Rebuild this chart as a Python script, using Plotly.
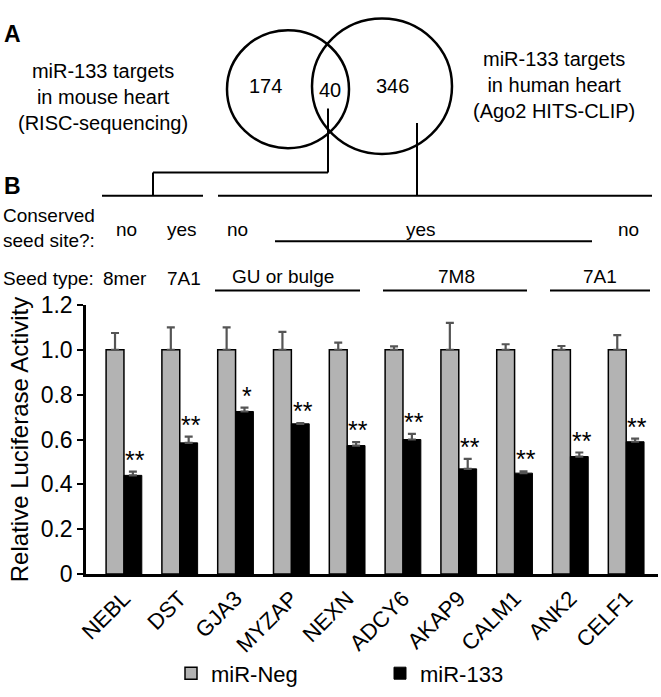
import plotly.graph_objects as go

# ---------------- data ----------------
genes = ["NEBL", "DST", "GJA3", "MYZAP", "NEXN", "ADCY6", "AKAP9", "CALM1", "ANK2", "CELF1"]
neg_vals = [1.0, 1.0, 1.0, 1.0, 1.0, 1.0, 1.0, 1.0, 1.0, 1.0]
neg_err = [0.075, 0.10, 0.10, 0.08, 0.032, 0.015, 0.12, 0.025, 0.017, 0.066]
mir_vals = [0.44, 0.585, 0.725, 0.67, 0.573, 0.60, 0.469, 0.45, 0.524, 0.59]
mir_err = [0.017, 0.028, 0.017, 0.003, 0.015, 0.025, 0.045, 0.008, 0.018, 0.014]
signif = ["**", "**", "*", "**", "**", "**", "**", "**", "**", "**"]
conserved = ["no", "yes", "no", "", "", "", "", "", "", "no"]
seed_type = ["8mer", "7A1"]
venn_counts = [174, 40, 346]
yticks = [0, 0.2, 0.4, 0.6, 0.8, 1.0, 1.2]
ytick_text = ["0", "0.2", "0.4", "0.6", "0.8", "1.0", "1.2"]

# ---------------- layout geometry ----------------
W, H = 661, 697
ML, MR, MT, MB = 86, 3, 305, 114
PW, PH = W - ML - MR, H - MT - MB


def xp(px):
    return (px - ML) / PW


def yp(py):
    return (H - MB - py) / PH


FONT = "Liberation Sans, Arial, sans-serif"
FS = 19
idx = list(range(len(genes)))

fig = go.Figure()
fig.add_trace(go.Bar(
    x=idx, y=neg_vals, name="miR-Neg",
    marker=dict(color="#b3b3b3", line=dict(color="black", width=1.5)),
    error_y=dict(type="data", array=neg_err, arrayminus=[0] * len(genes), symmetric=False,
                 color="#555555", thickness=2.2, width=4),
))
fig.add_trace(go.Bar(
    x=idx, y=mir_vals, name="miR-133",
    marker=dict(color="black", line=dict(color="black", width=1)),
    error_y=dict(type="data", array=mir_err, arrayminus=[0] * len(genes), symmetric=False,
                 color="#555555", thickness=2.2, width=4),
))

ann = []
shapes = []
# significance stars above miR-133 bars
for i, s in enumerate(signif):
    ann.append(dict(x=i + 0.2, y=mir_vals[i] + mir_err[i], xref="x", yref="y", text=s,
                    showarrow=False, yanchor="bottom", yshift=-4,
                    font=dict(size=25, color="black", family=FONT)))

def text(px, py, t, size=FS, xanchor="center", align="center", bold=False):
    ann.append(dict(x=xp(px), y=yp(py), xref="paper", yref="paper", text=("<b>%s</b>" % t) if bold else t,
                    showarrow=False, xanchor=xanchor, yanchor="middle", align=align,
                    font=dict(size=size, color="black", family=FONT)))

def line(x0, y0, x1, y1, w=2):
    shapes.append(dict(type="line", xref="paper", yref="paper", x0=xp(x0), y0=yp(y0), x1=xp(x1), y1=yp(y1),
                       line=dict(color="black", width=w)))

# panel letters
text(2, 25, "A", size=23, xanchor="left", bold=True)
text(2, 182, "B", size=23, xanchor="left", bold=True)

# Venn diagram
shapes.append(dict(type="circle", xref="paper", yref="paper", x0=xp(288 - 61), x1=xp(288 + 61),
                   y0=yp(82 + 61), y1=yp(82 - 61), line=dict(color="black", width=2.5)))
shapes.append(dict(type="circle", xref="paper", yref="paper", x0=xp(382 - 70), x1=xp(382 + 70),
                   y0=yp(79 + 70), y1=yp(79 - 70), line=dict(color="black", width=2.5)))
text(265, 79, str(venn_counts[0]), size=20)
text(330, 83, str(venn_counts[1]), size=20)
text(392, 79, str(venn_counts[2]), size=20)
text(103, 90, "miR-133 targets<br>in mouse heart<br>(RISC-sequencing)", size=20)
text(554, 78, "miR-133 targets<br>in human heart<br>(Ago2 HITS-CLIP)", size=20)

# connectors
line(328, 102, 328, 168)
line(153, 168, 328, 168)
line(153, 168, 153, 192)
line(417, 117, 417, 192)
line(102, 192, 203, 192)
line(218, 192, 652, 192)

# conserved row
text(1, 225, "Conserved<br>seed site?:", xanchor="left", align="left")
gx = [124 + 55.8 * i for i in idx]
for i, c in enumerate(conserved):
    if c:
        text(gx[i] + 2, 227, c)
text(421, 227, "yes")
line(275, 239, 592, 239)

# seed type row
text(1, 278, "Seed type:", xanchor="left")
text(gx[0] + 1, 278, seed_type[0])
text(gx[1] + 4, 278, seed_type[1])
text(283, 276, "GU or bulge")
line(215, 290, 360, 290)
text(456, 276, "7M8")
line(383, 290, 527, 290)
text(600, 276, "7A1")
line(550, 290, 650, 290)

fig.update_layout(
    width=W, height=H,
    margin=dict(l=ML, r=MR, t=MT, b=MB),
    paper_bgcolor="white", plot_bgcolor="white",
    barmode="group", bargap=0.36, bargroupgap=0,
    font=dict(family=FONT, size=FS, color="black"),
    annotations=ann, shapes=shapes,
    legend=dict(orientation="h", x=xp(171), y=yp(664), xanchor="left", yanchor="top",
                entrywidth=164, entrywidthmode="pixels", font=dict(size=22),
                bgcolor="rgba(0,0,0,0)"),
    xaxis=dict(range=[-0.68, 9.57], tickvals=idx, ticktext=genes, tickangle=-45,
               showline=True, linecolor="black", linewidth=3, ticks="", showgrid=False,
               zeroline=False, tickfont=dict(size=22)),
    yaxis=dict(range=[0, 1.2], tickvals=yticks, ticktext=ytick_text, ticks="outside",
               ticklen=6, tickwidth=2, tickcolor="black", showline=True, linecolor="black",
               linewidth=2.5, showgrid=False, zeroline=False, tickfont=dict(size=23),
               title=dict(text="Relative Luciferase Activity", font=dict(size=24), standoff=6)),
)

fig.write_html("out.html", config={"displayModeBar": False},
               post_script="document.body.style.margin='0';")
